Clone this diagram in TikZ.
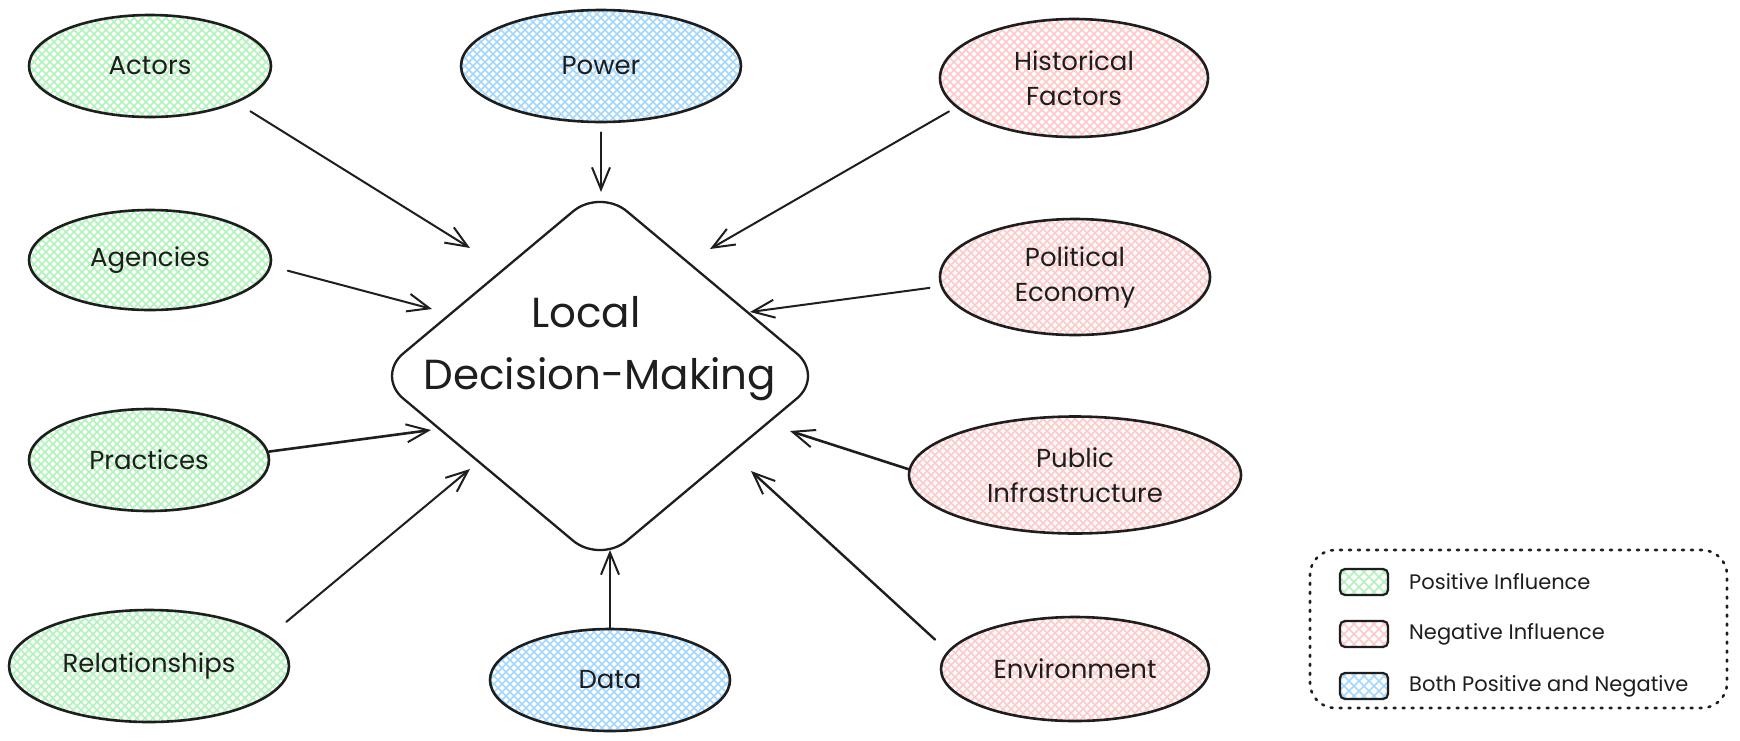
\documentclass[tikz,border=0pt]{standalone}
\usepackage{fontspec}
\setmainfont{Poppins}
\usetikzlibrary{shapes.geometric,arrows.meta,calc}
\definecolor{ink}{HTML}{1E1E1E}
\definecolor{hgreen}{HTML}{B2F2BB}
\definecolor{hred}{HTML}{FFC9C9}
\definecolor{hblue}{HTML}{A5D8FF}
\tikzset{
  hatch/.style={path picture={
    \foreach \k in {-32,...,32}{
      \draw[line width=1.7pt, draw=#1] ([shift={(\k*8pt-250pt,-250pt)}]path picture bounding box.center) -- ++(500pt,500pt);
      \draw[line width=1.7pt, draw=#1] ([shift={(\k*8pt-250pt,250pt)}]path picture bounding box.center) -- ++(500pt,-500pt);
    }}},
  hatchs/.style={path picture={
    \foreach \k in {-8,...,8}{
      \draw[line width=1.5pt, draw=#1] ([shift={(\k*10pt-60pt,-60pt)}]path picture bounding box.center) -- ++(120pt,120pt);
      \draw[line width=1.5pt, draw=#1] ([shift={(\k*10pt-60pt,60pt)}]path picture bounding box.center) -- ++(120pt,-120pt);
    }}},
  topic/.style={ellipse, draw=ink, line width=2.6pt, inner sep=0pt, text=ink,
    font=\fontsize{26}{35}\selectfont, align=center},
  posinf/.style={topic, hatch=hgreen},
  neginf/.style={topic, hatch=hred},
  bothinf/.style={topic, hatch=hblue},
  arr/.style={draw=ink, line width=2pt, line cap=round, line join=round,
    -{Straight Barb[length=22pt,width=18pt,line width=2pt]}},
  swatch/.style={draw=ink, line width=2.2pt, rounded corners=5pt, minimum width=48pt,
    minimum height=26pt, inner sep=0pt},
  legtext/.style={anchor=west, text=ink, font=\fontsize{21}{24}\selectfont, inner sep=0pt},
}
\begin{document}
\begin{tikzpicture}[x=1pt, y=-1pt]
\useasboundingbox (0,0) rectangle (1740,740);

% topic nodes
\node[posinf, minimum width=242pt, minimum height=102pt] (actors) at (150,66) {Actors};
\node[bothinf, minimum width=280pt, minimum height=112pt] (power) at (601,66) {Power};
\node[neginf, minimum width=268pt, minimum height=118pt] (hist) at (1074,78) {Historical\\Factors};
\node[posinf, minimum width=242pt, minimum height=100pt] (agencies) at (150,260) {Agencies};
\node[neginf, minimum width=270pt, minimum height=116pt] (polec) at (1075,277) {Political\\Economy};
\node[posinf, minimum width=240pt, minimum height=102pt] (practices) at (149,460) {Practices};
\node[neginf, minimum width=332pt, minimum height=117pt] (pubinf) at (1075,475) {Public\\Infrastructure};
\node[posinf, minimum width=280pt, minimum height=112pt] (relat) at (149,666) {Relationships};
\node[bothinf, minimum width=240pt, minimum height=102pt] (data) at (610,680) {Data};
\node[neginf, minimum width=268pt, minimum height=104pt] (env) at (1075,669) {Environment};

% central diamond
\node[minimum width=447pt, minimum height=374pt, inner sep=0pt] (ldm) at (600,376) {};
\draw[draw=ink, line width=2.3pt, rounded corners=35pt, line join=round]
  ($(ldm.west)!0.5!(ldm.north)$) -- (ldm.north) -- (ldm.east) -- (ldm.south) -- (ldm.west) -- cycle;
\node[text=ink, align=center, font=\fontsize{42}{62}\selectfont, inner sep=0pt] (ldmtext) at (600,349)
  {Local\hspace*{28pt}\\Decision-Making};

% arrow tips
\coordinate (tA) at (470,248);
\coordinate (tP) at (601,192);
\coordinate (tH) at (710,249);
\coordinate (tG) at (432,309);
\coordinate (tE) at (750,312);
\coordinate (tR) at (431,430);
\coordinate (tU) at (790,431);
\coordinate (tL) at (470,469);
\coordinate (tD) at (610,550);
\coordinate (tV) at (751,471);

\draw[arr, shorten <=16pt] (actors.-23) -- (tA);
\draw[arr, shorten <=9pt] (power.south) -- (tP);
\draw[arr, shorten <=8pt] (hist.194.6) -- (tH);
\draw[arr, shorten <=17pt] (agencies.-3.7) -- (tG);
\draw[arr, shorten <=11pt] (polec.184.7) -- (tE);
\draw[arr, line width=2.6pt] (practices.4.8) -- (tR);
\draw[arr, line width=2.6pt] (pubinf.178) -- (tU);
\draw[arr, shorten <=22pt] (relat.14) -- (tL);
\draw[arr, line width=2.4pt] (data.north) -- (tD);
\draw[arr, line width=2.4pt, shorten <=17pt] (env.172) -- (tV);

% legend
\node[draw=ink, dash pattern=on 2pt off 7pt, line cap=round, line width=2.6pt,
  rounded corners=25pt, minimum width=417pt, minimum height=158pt, inner sep=0pt] (legend) at (1518.5,629) {};
\node[swatch, hatchs=hgreen] (sw1) at (1364,582) {};
\node[swatch, hatchs=hred] (sw2) at (1364,634) {};
\node[swatch, hatchs=hblue] (sw3) at (1364,686) {};
\node[legtext] (lt1) at (1409,582) {Positive Influence};
\node[legtext] (lt2) at (1409,634) {Negative Influence};
\node[legtext] (lt3) at (1409,686) {Both Positive and Negative};
\end{tikzpicture}
\end{document}
